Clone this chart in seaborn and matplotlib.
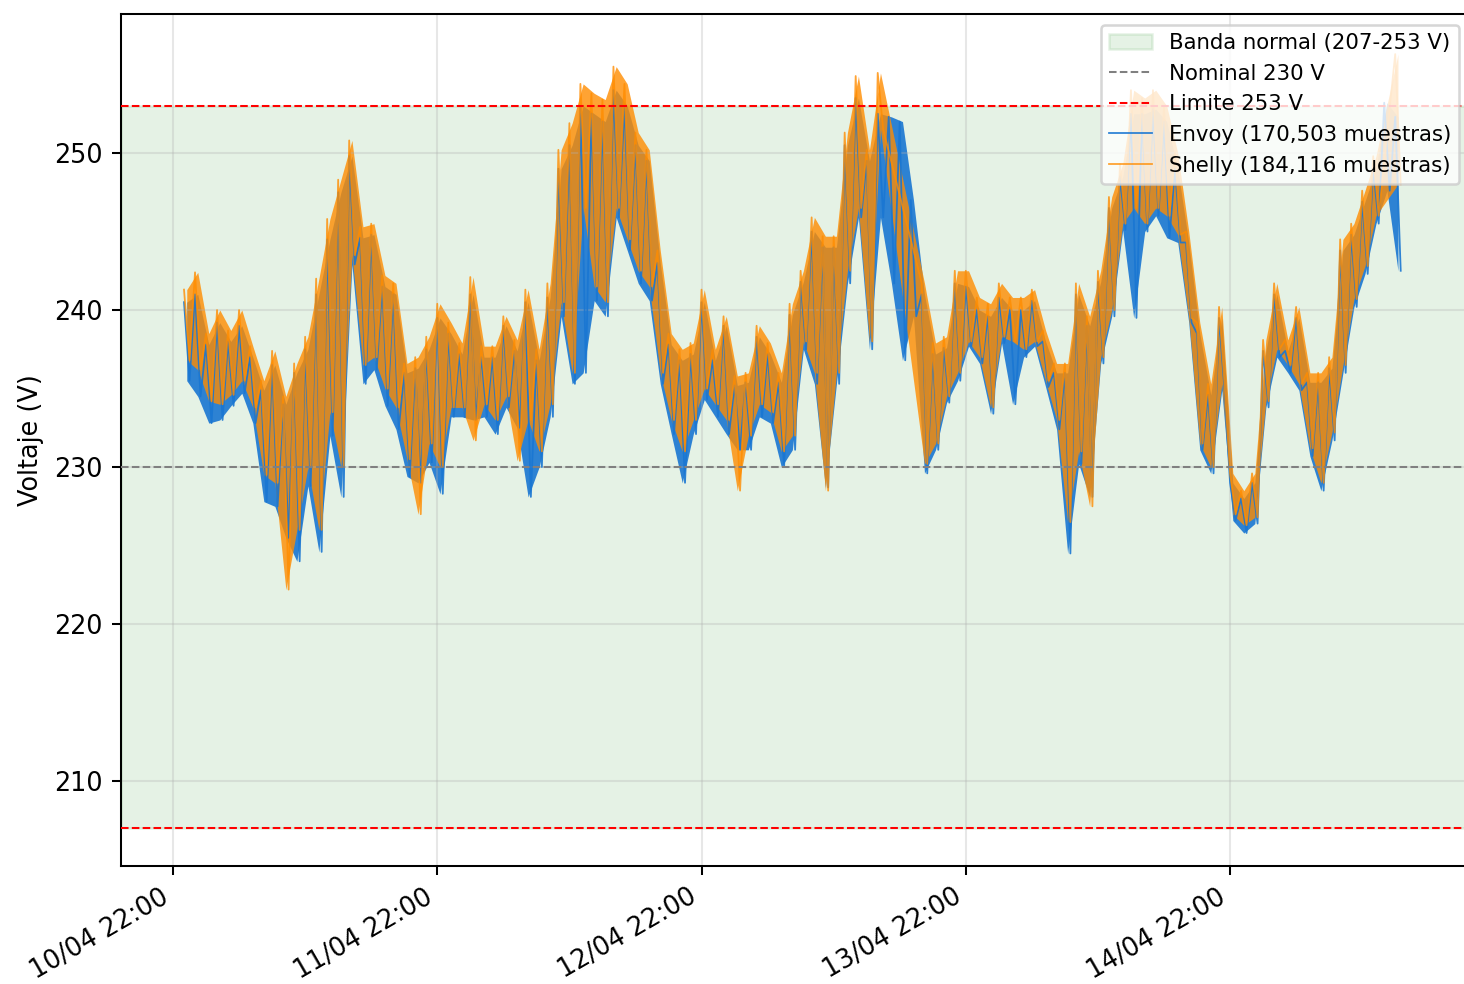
import numpy as np
import pandas as pd
import matplotlib
matplotlib.use("Agg")
import matplotlib.pyplot as plt
import matplotlib.dates as mdates
import seaborn as sns

# Datos: max/min por hora (horas desde 10/04 22:00)
envoy_hours = list(range(1, 112))
envoy_hi = [240.5, 241.0, 237.8, 239.2, 238.0, 239.0, 237.0, 234.9, 236.5, 234.0,
            236.0, 237.5, 241.0, 244.5, 247.5, 249.8, 244.6, 244.8, 241.5, 241.0,
            236.0, 236.3, 237.5, 239.5, 238.5, 237.2, 241.0, 237.0, 237.0, 239.0,
            237.4, 240.5, 236.8, 240.8, 249.0, 250.5, 253.0, 252.5, 252.0, 254.0,
            253.0, 250.5, 249.5, 243.0, 237.8, 236.8, 237.2, 240.5, 236.8, 239.0,
            235.2, 235.4, 238.3, 237.2, 235.4, 239.7, 241.8, 245.0, 244.0, 244.0,
            250.5, 253.5, 249.5, 252.5, 252.3, 252.0, 247.0, 241.0, 237.2, 237.6,
            241.7, 241.5, 240.0, 239.6, 240.8, 240.0, 240.0, 240.6, 238.0, 236.0,
            236.0, 241.0, 239.0, 241.8, 246.5, 248.5, 252.5, 252.5, 252.8, 252.0,
            249.0, 244.3, 238.5, 234.6, 239.5, 229.0, 228.0, 229.0, 237.4, 241.0,
            237.4, 239.5, 235.4, 235.4, 236.3, 243.8, 244.8, 246.9, 249.0, 253.2,
            252.3]
envoy_lo = [235.5, 234.5, 232.8, 233.0, 233.9, 234.7, 232.8, 227.8, 227.5, 225.5,
            224.0, 228.8, 224.6, 232.0, 228.1, 242.9, 235.3, 236.2, 233.9, 232.4,
            229.4, 229.0, 230.3, 228.3, 233.2, 233.2, 233.0, 233.2, 232.1, 233.8,
            232.5, 228.1, 230.0, 233.2, 239.6, 235.3, 236.0, 240.6, 239.6, 245.9,
            243.8, 241.7, 240.6, 235.3, 232.1, 229.0, 232.1, 234.3, 233.2, 232.1,
            231.1, 231.1, 233.2, 232.8, 230.0, 231.1, 237.5, 235.3, 228.7, 235.3,
            241.7, 245.9, 237.5, 245.9, 241.7, 236.8, 239.6, 229.6, 231.1, 234.1,
            235.5, 237.7, 236.6, 233.4, 237.9, 234.0, 237.0, 237.7, 235.1, 232.4,
            224.5, 230.2, 228.1, 236.6, 239.6, 245.1, 239.5, 245.0, 246.0, 244.6,
            244.3, 239.2, 231.1, 229.6, 234.9, 226.6, 225.8, 226.4, 233.8, 237.0,
            236.0, 234.9, 230.7, 228.5, 231.7, 236.0, 240.2, 242.3, 245.5, 247.6,
            242.5]

# Shelly tiene huecos (13/04 tarde y final del 15/04)
shelly_hours = list(range(1, 65)) + list(range(68, 110)) + [111]
shelly_hi = [241.3, 242.4, 238.5, 240.0, 238.7, 240.0, 237.7, 235.5, 237.4, 234.5,
             236.6, 238.3, 242.0, 245.8, 248.3, 250.8, 245.3, 245.5, 242.2, 241.7,
             236.6, 237.0, 238.3, 240.4, 239.2, 237.9, 242.1, 237.7, 237.7, 239.6,
             238.1, 241.3, 237.5, 241.7, 250.2, 251.9, 254.4, 253.8, 253.4, 255.5,
             254.4, 251.3, 250.2, 243.8, 238.5, 237.5, 237.9, 241.3, 237.5, 239.6,
             235.8, 236.0, 239.0, 237.9, 236.0, 240.4, 242.5, 245.9, 244.7, 244.7,
             251.3, 254.9, 250.2, 255.1,
             241.7, 237.9, 238.3, 242.5, 242.5, 240.8, 240.4, 241.7, 240.8, 240.8,
             241.3, 238.7, 236.6, 236.6, 241.7, 239.6, 242.5, 247.2, 249.3, 254.0,
             253.5, 254.0, 253.0, 250.0, 245.0, 239.2, 235.3, 240.2, 229.6, 228.5,
             229.6, 238.1, 241.7, 238.1, 240.2, 236.0, 236.0, 237.0, 244.5, 245.5,
             247.6, 249.8,
             256.3]
shelly_lo = [236.8, 236.2, 234.2, 234.0, 234.6, 235.5, 233.8, 229.5, 229.0, 222.2,
             226.0, 230.0, 226.0, 233.5, 230.0, 243.5, 236.5, 237.0, 235.0, 233.8,
             230.5, 227.0, 231.5, 230.0, 233.8, 233.8, 231.7, 234.0, 233.0, 234.5,
             230.4, 233.0, 231.0, 234.0, 240.5, 236.0, 246.5, 241.5, 240.5, 246.5,
             244.5, 242.5, 241.5, 236.0, 233.0, 231.0, 233.0, 235.0, 234.0, 233.0,
             228.5, 232.0, 234.0, 233.5, 231.0, 232.0, 238.0, 236.0, 228.5, 236.0,
             242.5, 246.5, 238.0, 251.5,
             230.2, 231.5, 234.5, 236.0, 238.0, 237.0, 233.8, 238.3, 238.0, 237.5,
             238.0, 235.5, 233.0, 226.5, 231.0, 227.5, 237.0, 240.0, 245.5, 246.5,
             245.5, 246.5, 246.0, 244.8, 239.5, 231.5, 230.0, 235.3, 227.0, 226.3,
             226.8, 234.2, 237.5, 236.5, 235.3, 231.2, 229.0, 232.2, 236.5, 240.7,
             242.8, 246.0,
             248.0]

base = pd.Timestamp("2025-04-10 22:00")


def serie(hours, hi, lo):
    t, v = [], []
    for h, a, b in zip(hours, hi, lo):
        t += [base + pd.Timedelta(hours=h), base + pd.Timedelta(hours=h + 0.5)]
        v += [a, b]
    return pd.DataFrame({"t": t, "v": v})


df_envoy = serie(envoy_hours, envoy_hi, envoy_lo)
df_shelly = serie(shelly_hours, shelly_hi, shelly_lo)
t_envoy = [base + pd.Timedelta(hours=h + 0.25) for h in envoy_hours]
t_shelly = [base + pd.Timedelta(hours=h + 0.25) for h in shelly_hours]

DPI = 184
fig = plt.figure(figsize=(1464 / DPI, 984 / DPI), dpi=DPI)
ax = fig.add_axes([121 / 1464, 118 / 984, 1349 / 1464, 852 / 984])

ax.axhspan(207, 253, color="green", alpha=0.1, label="Banda normal (207-253 V)")
ax.axhline(230, color="gray", ls="--", lw=0.8, label="Nominal 230 V", zorder=3)
ax.axhline(253, color="red", ls="--", lw=0.8, label="Limite 253 V", zorder=3)
ax.axhline(207, color="red", ls="--", lw=0.8, zorder=3)

c_envoy = "#1976D2"
c_shelly = "#FF8C00"

# rango de muestras por hora (banda densa) + trazo de picos
ax.fill_between(t_envoy, envoy_lo, envoy_hi, color=c_envoy, alpha=0.9, lw=0)
sns.lineplot(data=df_envoy, x="t", y="v", sort=False, estimator=None,
             color=c_envoy, lw=0.7, alpha=0.9, ax=ax,
             label="Envoy (170,503 muestras)")
ax.fill_between(t_shelly, shelly_lo, shelly_hi, color=c_shelly, alpha=0.8, lw=0)
sns.lineplot(data=df_shelly, x="t", y="v", sort=False, estimator=None,
             color=c_shelly, lw=0.7, alpha=0.8, ax=ax,
             label="Shelly (184,116 muestras)")

ax.set_ylim(204.6, 258.85)
ax.set_xlim(base + pd.Timedelta(days=-0.1968), base + pd.Timedelta(days=4.908))
ax.xaxis.set_major_locator(mdates.HourLocator(byhour=22))
ax.xaxis.set_major_formatter(mdates.DateFormatter("%d/%m %H:%M"))
plt.setp(ax.get_xticklabels(), rotation=30, ha="right")
ax.set_yticks([210, 220, 230, 240, 250])
ax.tick_params(labelsize=10)
ax.set_xlabel("")
ax.set_ylabel("Voltaje (V)", fontsize=10)
ax.grid(True, alpha=0.3)
ax.legend(loc="upper right", fontsize=8.3)

fig.savefig("out.png", dpi=DPI)
